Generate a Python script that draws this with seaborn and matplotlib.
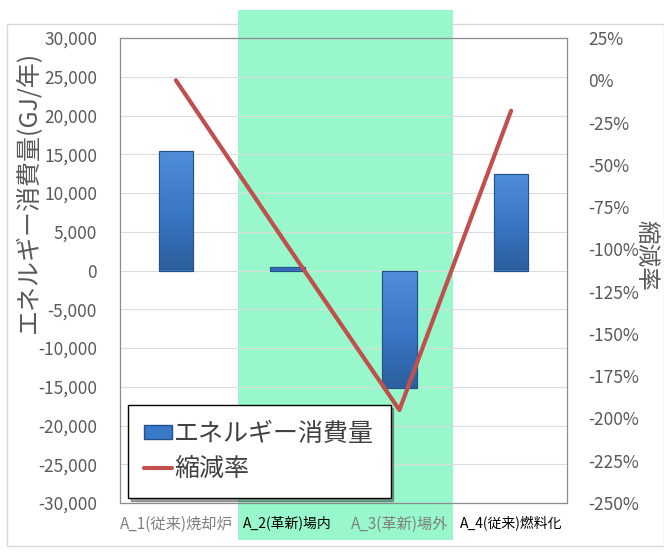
import numpy as np
import pandas as pd
import matplotlib
matplotlib.use("Agg")
import matplotlib.pyplot as plt
import matplotlib.patches as mpatches
from matplotlib.colors import LinearSegmentedColormap
from matplotlib.lines import Line2D
from matplotlib.ticker import FuncFormatter
import seaborn as sns

# ---- data -------------------------------------------------------------
categories = ["A_1(従来)焼却炉", "A_2(革新)場内", "A_3(革新)場外", "A_4(従来)燃料化"]
energy = [15400, 400, -15100, 12500]          # GJ/年
reduction = [0, -98, -195, -18]               # %
left_ticks = list(range(-30000, 30001, 5000))
right_ticks = list(range(-250, 26, 25))

sns.set_theme(style="white")
plt.rcParams["font.family"] = ["Noto Sans CJK JP", "DejaVu Sans"]

fig = plt.figure(figsize=(6.64, 5.58), dpi=100)
W, H = 664, 558

def fx(px):
    return px / W

def fy(py):
    return 1 - py / H

# outer chart frame
fig.patches.append(mpatches.Rectangle((fx(7), fy(546)), fx(657), fy(24) - fy(546),
                                      transform=fig.transFigure, fill=False,
                                      edgecolor="#d9d9d9", lw=1, zorder=-3))
# highlighted band behind the two 革新 cases
fig.patches.append(mpatches.Rectangle((fx(238), fy(540)), fx(453) - fx(238), fy(10) - fy(540),
                                      transform=fig.transFigure, facecolor="#98f8cb",
                                      edgecolor="none", zorder=-2))

ax = fig.add_axes([fx(120), fy(503), fx(567) - fx(120), fy(38) - fy(503)])
ax.patch.set_alpha(0)

df = pd.DataFrame({"cat": categories, "energy": energy, "reduction": reduction})

bar_face = "#3a78c8"
sns.barplot(data=df, x="cat", y="energy", ax=ax, color=bar_face, width=0.31,
            edgecolor="#24518c", linewidth=0.8, saturation=1, zorder=3)

# glossy vertical shading inside each bar
shade = LinearSegmentedColormap.from_list("shade", ["#2c5f9e", "#3a78c8", "#4f8ed9"])
grad = np.linspace(0, 1, 64).reshape(-1, 1)
for p in list(ax.patches):
    x0, y0 = p.get_x(), p.get_y()
    w, h = p.get_width(), p.get_height()
    lo, hi = min(y0, y0 + h), max(y0, y0 + h)
    im = ax.imshow(grad, cmap=shade, aspect="auto", origin="lower",
                   extent=(x0, x0 + w, lo, hi), zorder=3.5, interpolation="bicubic")
    im.set_clip_path(p)
    ax.add_patch(mpatches.Rectangle((x0, y0), w, h, fill=False,
                                    edgecolor="#24518c", lw=0.8, zorder=3.6))
ax.set_xlim(-0.5, 3.5)
ax.set_ylim(-30000, 30000)
ax.set_aspect("auto")

ax.set_yticks(left_ticks)
ax.yaxis.set_major_formatter(FuncFormatter(lambda v, p: f"{int(v):,}"))
ax.grid(axis="y", color="#dcdcdc", lw=0.8, zorder=0)
ax.set_axisbelow(True)
for s in ax.spines.values():
    s.set_color("#8c8c8c")
    s.set_linewidth(0.9)
ax.tick_params(axis="y", labelsize=12.5, labelcolor="#595959", length=0, pad=16.5)
ax.tick_params(axis="x", length=0, pad=9)
ax.set_xlabel("")
ax.set_ylabel("エネルギー消費量(GJ/年)", fontsize=18, color="#595959")

# category labels: conventional cases grey, innovative ones in black
label_styles = [("#7f7f7f", 11, "normal"), ("black", 10, "normal"),
                ("#7f7f7f", 11, "normal"), ("black", 10, "normal")]
ax.set_xticks(range(len(categories)))
ax.set_xticklabels(categories)
for t, (c, s, w) in zip(ax.get_xticklabels(), label_styles):
    t.set_color(c)
    t.set_fontsize(s)
    t.set_fontweight(w)

ax2 = ax.twinx()
ax2.patch.set_alpha(0)
sns.lineplot(x=np.arange(len(categories)), y=reduction, ax=ax2,
             color="#c0504d", lw=3, zorder=4)
ax2.set_ylim(-250, 25)
ax2.set_yticks(right_ticks)
ax2.yaxis.set_major_formatter(FuncFormatter(lambda v, p: f"{int(v)}%"))
ax2.tick_params(axis="y", labelsize=12.5, labelcolor="#595959", length=0, pad=15)
ax2.grid(False)
for s in ax2.spines.values():
    s.set_visible(False)
ax2.set_ylabel("縮減率", fontsize=17, color="#595959", rotation=270, va="center")

axw = fx(567) - fx(120)
ax2.yaxis.set_label_coords((fx(646) - fx(120)) / axw, (503 - 255) / 465)
ax.yaxis.set_label_coords((fx(42) - fx(120)) / axw, (503 - 192) / 465)

handles = [mpatches.Patch(facecolor=bar_face, edgecolor="#24518c"),
           Line2D([0], [0], color="#c0504d", lw=3)]
leg = ax2.legend(handles, ["エネルギー消費量", "縮減率"], loc="lower left",
                 bbox_to_anchor=(8 / 447, 5 / 465), borderaxespad=0,
                 fontsize=18, frameon=True, fancybox=False, shadow=True,
                 edgecolor="black", handlelength=1.1, handleheight=0.45,
                 handletextpad=0.1, borderpad=0.65, labelspacing=0.35,
                 labelcolor="#404040")
leg.get_frame().set_linewidth(1.0)
leg.set_zorder(10)

fig.savefig("out.png", dpi=100)
